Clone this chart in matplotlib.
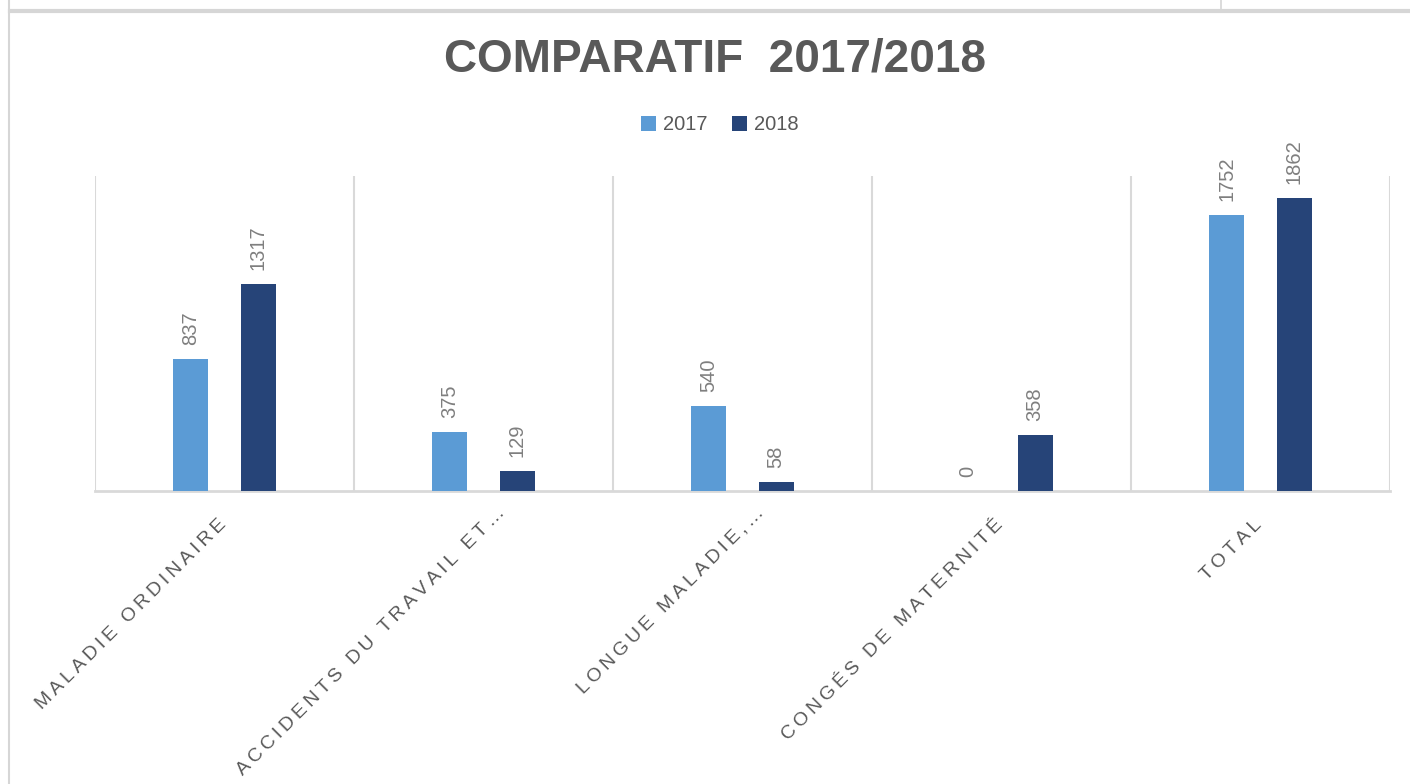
import numpy as np
import matplotlib.pyplot as plt
import matplotlib.transforms as mtransforms
from matplotlib.lines import Line2D

categories = ["MALADIE ORDINAIRE", "ACCIDENTS DU TRAVAIL ET…", "LONGUE MALADIE,…",
              "CONGÉS DE MATERNITÉ", "TOTAL"]
series_names = ["2017", "2018"]
values_2017 = [837, 375, 540, 0, 1752]
values_2018 = [1317, 129, 58, 358, 1862]

c2017 = "#5B9BD5"
c2018 = "#264478"
grid_col = "#d9d9d9"
txt_col = "#595959"
lab_col = "#7f7f7f"

W, H = 1410, 784
fig = plt.figure(figsize=(W / 100, H / 100), dpi=100)
fig.patch.set_facecolor("white")

# screenshot frame lines
fig.add_artist(Line2D([10 / W, 1], [1 - 11 / H, 1 - 11 / H], color="#d6d6d6", lw=3))
fig.add_artist(Line2D([9 / W, 9 / W], [0, 1], color="#d6d6d6", lw=1.5))
fig.add_artist(Line2D([1221 / W, 1221 / W], [1 - 11 / H, 1], color="#d6d6d6", lw=1.2))

ax = fig.add_axes([95 / W, 1 - 491 / H, (1390 - 95) / W, (491 - 176) / H])
x = np.arange(len(categories))
bw = 0.135
off = 0.13
b1 = ax.bar(x - off, values_2017, bw, color=c2017, label=series_names[0], zorder=3)
b2 = ax.bar(x + off, values_2018, bw, color=c2018, label=series_names[1], zorder=3)

for bars in (b1, b2):
    for r in bars:
        v = r.get_height()
        ax.annotate(f"{int(v)}", (r.get_x() + r.get_width() / 2, v),
                    xytext=(0, 10), textcoords="offset points", rotation=90,
                    ha="center", va="bottom", fontsize=14.5, color=lab_col,
                    family="Liberation Sans")

ax.set_xlim(-0.5, len(categories) - 0.5)
ax.set_ylim(0, 2000)
for b in np.arange(-0.5, len(categories), 1.0):
    ax.axvline(b, color=grid_col, lw=1.5, zorder=1)

for s in ["top", "left", "right"]:
    ax.spines[s].set_visible(False)
ax.spines["bottom"].set_color(grid_col)
ax.spines["bottom"].set_linewidth(2)
ax.set_yticks([])


# letter spacing with thin spaces
def spaced(s):
    ts = "\u2009"
    return (ts + " " + ts).join(ts.join(w) for w in s.split(" "))


ax.set_xticks(x)
ax.set_xticklabels([spaced(c) for c in categories], rotation=45, ha="right",
                   va="top", rotation_mode="anchor", fontsize=14, color=txt_col,
                   family=["Liberation Sans", "DejaVu Sans"])
ax.tick_params(axis="x", length=0, pad=18)
for lbl, c in zip(ax.get_xticklabels(), categories):
    if c.endswith("…"):
        shift = mtransforms.ScaledTranslation(0.13, 0.12, fig.dpi_scale_trans)
    else:
        shift = mtransforms.ScaledTranslation(-0.07, 0, fig.dpi_scale_trans)
    lbl.set_transform(lbl.get_transform() + shift)

fig.text(715 / W, 1 - 60 / H, "COMPARATIF  2017/2018", ha="center", va="center",
         fontsize=33, fontweight="bold", color=txt_col, family="Liberation Sans")

leg = fig.legend(handles=[b1, b2], loc="center", bbox_to_anchor=(720 / W, 1 - 125 / H),
                 ncol=2, frameon=False, handlelength=0.75,
                 handleheight=0.75, handletextpad=0.35, columnspacing=1.2,
                 prop={"family": "Liberation Sans", "size": 14.5})
for t in leg.get_texts():
    t.set_color(txt_col)

fig.savefig("out.png", dpi=100)
